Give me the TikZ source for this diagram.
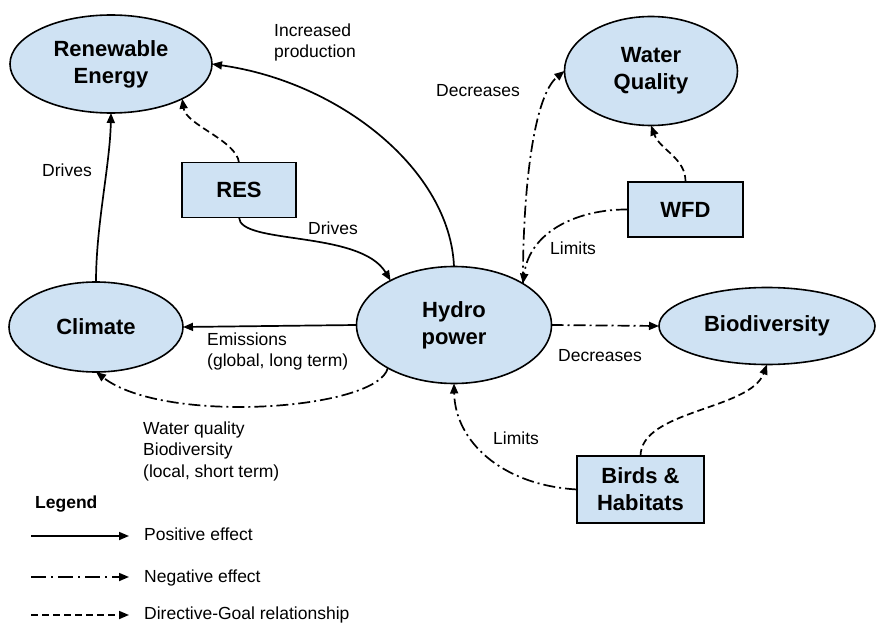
\documentclass[tikz,border=0pt]{standalone}
\usepackage{fontspec}
\setmainfont{Liberation Sans}
\usetikzlibrary{arrows.meta,shapes.geometric}
\definecolor{nodefill}{HTML}{CFE2F3}
\newcommand{\nodefont}{\fontsize{22}{27}\selectfont\bfseries}
\newcommand{\labfont}{\fontsize{17.5}{21.5}\selectfont}
\begin{document}
\begin{tikzpicture}[x=1pt,y=-1pt,
  ell/.style={ellipse, draw, line width=1.6pt, fill=nodefill, inner sep=0pt, outer sep=0pt, align=center, font=\nodefont},
  box/.style={rectangle, draw, line width=1.6pt, fill=nodefill, inner sep=0pt, outer sep=0pt, align=center, font=\nodefont},
  lab/.style={anchor=base west, inner sep=0pt, align=left, font=\labfont},
  con/.style={line width=1.7pt, -{Triangle[length=10pt,width=8pt]}},
  poseff/.style={con},
  negeff/.style={con, dash pattern=on 12pt off 4pt on 2pt off 4pt},
  direff/.style={con, dash pattern=on 7pt off 4pt}]
\useasboundingbox (0,0) rectangle (876,623);

% nodes
\node[ell, minimum width=202pt, minimum height=98pt] (re) at (111,64) {Renewable\\Energy};
\node[ell, minimum width=173pt, minimum height=109pt] (wq) at (651,71) {Water\\Quality};
\node[ell, minimum width=174pt, minimum height=90pt] (clim) at (96,327) {Climate};
\node[ell, minimum width=195pt, minimum height=117pt] (hyd) at (454,325) {Hydro\\power};
\node[ell, minimum width=216pt, minimum height=77pt] (bio) at (767,326) {Biodiversity};
\node[box, minimum width=114pt, minimum height=55pt] (res) at (239,190) {RES};
\node[box, minimum width=115pt, minimum height=55pt] (wfd) at (685.5,209.5) {WFD};
\node[box, minimum width=127pt, minimum height=67pt] (birds) at (640.5,489.5) {Birds \&\\Habitats};

% connectors
\draw[poseff] (hyd.north) .. controls (450,170) and (340,82) .. (re.east);
\draw[poseff] (clim.north) .. controls (96,225) and (110,165) .. (re.south);
\draw[direff] (res.north) .. controls (236,140) and (186,125) .. (re.-26);
\draw[poseff] (res.south) .. controls (240,245) and (360,230) .. (hyd.145);
\draw[poseff] (hyd.west) -- (clim.east);
\draw[negeff] (hyd.213) .. controls (378,410) and (165,425) .. (clim.south);
\draw[negeff] (hyd.31) .. controls (523,180) and (535,95) .. (wq.west);
\draw[negeff] (wfd.west) .. controls (580,209) and (530,230) .. (hyd.31);
\draw[direff] (wfd.north) .. controls (686,158) and (660,150) .. (wq.south);
\draw[negeff] (hyd.east) -- (bio.west);
\draw[negeff] (birds.west) .. controls (500,485) and (455,440) .. (hyd.south);
\draw[direff] (birds.north) .. controls (641,410) and (750,410) .. (bio.south);

% labels (base = baseline of last line)
\node[lab] (l1) at (274,58) {Increased\\production};
\node[lab] (l2) at (42,177) {Drives};
\node[lab] (l3) at (308,234) {Drives};
\node[lab] (l4) at (436,97) {Decreases};
\node[lab] (l5) at (550,254) {Limits};
\node[lab] (l6) at (207,366.5) {Emissions\\(global, long term)};
\node[lab] (l7) at (558,361) {Decreases};
\node[lab] (l8) at (143,477) {Water quality\\Biodiversity\\(local, short term)};
\node[lab] (l9) at (493,444) {Limits};

% legend
\node[lab, font=\labfont\bfseries] (leg) at (35,508) {Legend};
\coordinate (a1) at (31,536); \coordinate (b1) at (129,536);
\coordinate (a2) at (31,577); \coordinate (b2) at (129,577);
\coordinate (a3) at (31,615); \coordinate (b3) at (129,615);
\draw[poseff] (a1) -- (b1);
\draw[negeff, dash pattern=on 15pt off 5pt on 2pt off 5pt] (a2) -- (b2);
\draw[direff] (a3) -- (b3);
\node[lab] (t1) at (144,540) {Positive effect};
\node[lab] (t2) at (144,582) {Negative effect};
\node[lab] (t3) at (144,619) {Directive-Goal relationship};
\end{tikzpicture}
\end{document}
